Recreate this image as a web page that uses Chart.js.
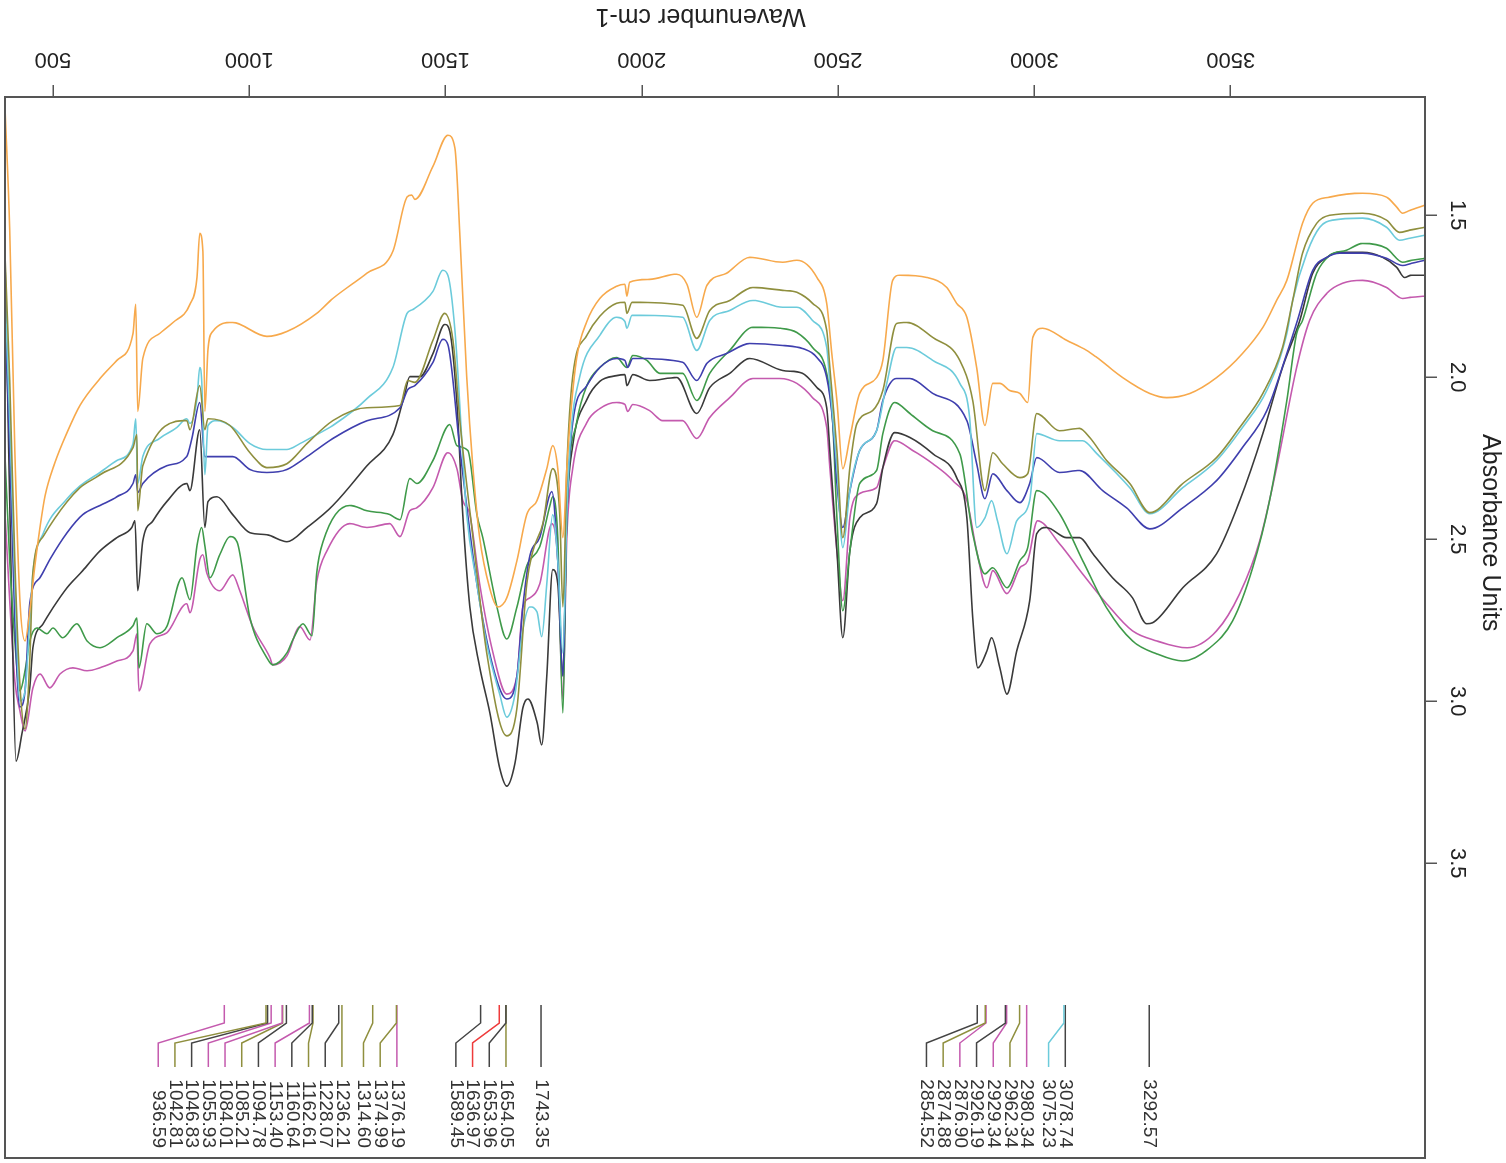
<!DOCTYPE html>
<html>
<head>
<meta charset="utf-8">
<title>FTIR spectra</title>
<script src="https://cdn.jsdelivr.net/npm/chart.js@4.4.0/dist/chart.umd.min.js"></script>
<style>
  html, body { margin: 0; padding: 0; background: #fff; overflow: hidden; }
  /* the reference picture is the plot turned upside down */
  #wrap { width: 1506px; height: 1163px; transform: rotate(180deg); }
  canvas { display: block; }
</style>
</head>
<body>
<div id="wrap"><canvas id="spectra" width="1506" height="1163"></canvas></div>
<script>
// spectra: wavenumber (cm-1) and absorbance
const orangeWn = [378,390,403,416,429,441,454,467,480,505,536,569,620,663,704,711,716,729,772,806,849,867,874,882,887,895,907,958,1045,1096,1172,1213,1300,1366,1402,1414,1422,1468,1506,1524,1537,1554,1570,1587,1613,1633,1656,1682,1707,1733,1758,1773,1786,1799,1809,1817,1834,1860,1893,1936,1957,1962,1969,2020,2089,2115,2140,2166,2216,2275,2359,2395,2446,2471,2484,2497,2512,2530,2555,2598,2614,2639,2657,2726,2777,2802,2828,2853,2874,2894,2912,2937,2963,2983,2996,3021,3082,3133,3159,3225,3294,3337,3396,3464,3530,3582,3617,3643,3683,3709,3752,3836,3897,3923,3938,3956,3994];
const orangeAbs = [1.169,1.546,2.226,2.690,2.814,2.721,2.582,2.464,2.366,2.264,2.171,2.087,2.004,1.948,1.865,1.775,2.106,1.942,1.865,1.831,1.775,1.692,1.556,1.611,2.106,1.914,1.859,1.831,1.874,1.859,1.803,1.757,1.679,1.611,1.444,1.438,1.451,1.349,1.253,1.293,1.571,1.998,2.282,2.495,2.653,2.709,2.681,2.566,2.424,2.381,2.282,2.211,2.282,2.495,2.282,2.140,1.942,1.828,1.757,1.719,1.713,1.750,1.707,1.698,1.682,1.713,1.815,1.716,1.679,1.630,1.645,1.639,1.692,1.772,1.927,2.072,2.282,2.186,2.050,2.001,1.948,1.701,1.685,1.692,1.723,1.772,1.815,1.970,2.149,2.019,2.019,2.041,2.050,2.078,1.877,1.849,1.886,1.917,1.939,2.001,2.050,2.063,2.050,2.001,1.927,1.846,1.763,1.701,1.525,1.463,1.444,1.432,1.444,1.475,1.494,1.485,1.469];

const oliveWn = [378,390,403,416,429,441,449,475,536,569,620,704,714,716,729,841,849,874,887,895,951,1002,1045,1096,1147,1213,1300,1384,1404,1422,1468,1498,1519,1537,1570,1605,1656,1682,1707,1722,1748,1773,1791,1799,1809,1824,1860,1893,1936,1957,1962,1975,2104,2140,2173,2224,2283,2359,2395,2435,2471,2479,2497,2512,2530,2548,2588,2614,2649,2675,2741,2810,2843,2874,2894,2919,2963,2983,3006,3064,3115,3141,3184,3243,3294,3378,3464,3523,3582,3632,3658,3683,3719,3752,3836,3897,3930,3956,3994];
const oliveAbs = [1.624,2.010,2.566,2.950,3.086,2.876,2.604,2.492,2.384,2.341,2.301,2.217,2.177,2.412,2.273,2.134,2.162,2.026,2.162,2.128,2.149,2.233,2.279,2.267,2.205,2.134,2.094,2.087,2.010,2.016,1.886,1.803,1.886,2.140,2.495,2.851,3.107,3.021,2.638,2.539,2.452,2.282,2.424,2.709,2.282,1.998,1.871,1.812,1.772,1.769,1.803,1.769,1.778,1.880,1.794,1.763,1.723,1.732,1.738,1.772,1.855,1.970,2.226,2.495,2.279,2.143,2.103,2.041,1.834,1.831,1.877,1.948,2.072,2.350,2.233,2.267,2.310,2.298,2.112,2.165,2.158,2.186,2.257,2.328,2.418,2.328,2.248,2.155,2.050,1.908,1.763,1.617,1.525,1.500,1.494,1.515,1.553,1.546,1.537];

const cyanWn = [378,390,403,416,429,441,449,475,536,569,620,663,704,711,716,729,772,816,841,849,867,874,879,887,895,918,958,1002,1045,1096,1129,1172,1213,1300,1366,1402,1417,1468,1493,1506,1524,1554,1580,1605,1638,1656,1677,1697,1715,1733,1745,1758,1773,1786,1799,1809,1817,1842,1893,1936,1957,1962,1975,2104,2140,2173,2224,2283,2359,2395,2435,2471,2479,2497,2512,2530,2555,2598,2624,2649,2675,2741,2810,2835,2853,2874,2891,2906,2930,2955,2988,3006,3064,3123,3159,3243,3294,3378,3464,3530,3592,3643,3658,3694,3727,3760,3836,3897,3930,3956,3994];
const cyanAbs = [1.741,2.134,2.628,2.999,2.968,2.752,2.604,2.483,2.375,2.335,2.294,2.257,2.205,2.128,2.328,2.245,2.189,2.155,2.128,2.143,2.066,1.970,2.010,2.301,2.149,2.134,2.155,2.205,2.223,2.223,2.205,2.177,2.149,2.066,1.970,1.803,1.791,1.735,1.670,1.685,1.855,2.424,2.638,2.823,2.978,3.049,2.978,2.780,2.709,2.724,2.801,2.638,2.424,2.566,2.851,2.424,2.211,1.998,1.871,1.815,1.828,1.849,1.809,1.815,1.917,1.825,1.794,1.763,1.784,1.784,1.825,1.908,2.019,2.279,2.526,2.350,2.226,2.165,2.019,1.908,1.908,1.948,2.019,2.124,2.464,2.434,2.381,2.443,2.545,2.443,2.381,2.174,2.196,2.196,2.236,2.341,2.421,2.341,2.257,2.155,2.041,1.865,1.763,1.617,1.537,1.515,1.509,1.537,1.577,1.571,1.562];

const blueWn = [378,390,403,416,429,441,467,492,536,576,620,663,704,711,716,729,790,841,854,874,887,958,1002,1045,1096,1147,1213,1300,1384,1404,1422,1468,1493,1506,1537,1580,1621,1656,1682,1697,1715,1740,1771,1786,1799,1809,1824,1860,1893,1936,1957,1964,1977,2104,2140,2166,2216,2275,2359,2409,2446,2471,2486,2497,2512,2530,2555,2598,2614,2649,2683,2741,2828,2853,2874,2894,2930,2963,2988,3006,3064,3115,3174,3235,3294,3378,3464,3530,3592,3643,3670,3709,3745,3778,3836,3897,3938,3961,3994];
const blueAbs = [1.803,2.226,2.752,3.018,2.968,2.699,2.619,2.563,2.480,2.424,2.396,2.369,2.328,2.301,2.356,2.328,2.273,2.245,2.189,2.078,2.245,2.245,2.285,2.294,2.285,2.245,2.189,2.134,2.094,2.038,2.026,1.954,1.883,1.899,2.226,2.638,2.894,2.993,2.922,2.709,2.551,2.495,2.353,2.566,2.922,2.424,2.140,2.026,1.970,1.942,1.948,1.970,1.942,1.954,2.010,1.957,1.927,1.896,1.902,1.911,1.939,2.001,2.134,2.328,2.464,2.350,2.226,2.165,2.072,2.004,2.004,2.050,2.134,2.267,2.375,2.298,2.350,2.387,2.328,2.248,2.294,2.288,2.350,2.403,2.468,2.403,2.319,2.217,2.103,1.927,1.825,1.670,1.630,1.617,1.617,1.633,1.655,1.648,1.639];

const greenWn = [378,390,403,416,429,441,459,485,500,525,561,587,620,663,704,714,719,739,765,790,829,849,867,879,887,900,925,951,969,1002,1045,1060,1096,1111,1137,1160,1172,1188,1256,1300,1358,1384,1409,1427,1468,1511,1529,1557,1580,1595,1631,1656,1682,1707,1740,1766,1773,1786,1799,1809,1834,1860,1893,1936,1962,1977,2013,2046,2104,2140,2173,2224,2283,2351,2395,2435,2471,2486,2497,2512,2530,2555,2598,2614,2644,2683,2741,2810,2843,2874,2894,2930,2963,2983,3006,3064,3123,3184,3250,3312,3378,3447,3505,3556,3599,3643,3668,3683,3719,3752,3795,3836,3897,3938,3961,3994];
const greenAbs = [2.245,2.566,2.814,2.968,2.906,2.814,2.774,2.792,2.774,2.804,2.761,2.814,2.835,2.804,2.767,2.743,2.897,2.761,2.792,2.770,2.619,2.687,2.520,2.464,2.520,2.619,2.548,2.492,2.508,2.743,2.866,2.888,2.851,2.811,2.761,2.798,2.604,2.508,2.396,2.412,2.424,2.440,2.313,2.328,2.257,2.146,2.211,2.226,2.424,2.495,2.709,2.808,2.709,2.582,2.523,2.396,2.369,2.495,3.036,2.424,2.140,2.026,1.970,1.939,1.970,1.933,1.948,1.988,1.988,2.072,1.988,1.917,1.846,1.849,1.862,1.908,1.988,2.134,2.434,2.721,2.536,2.328,2.288,2.174,2.078,2.112,2.165,2.236,2.483,2.607,2.588,2.650,2.566,2.526,2.350,2.421,2.566,2.712,2.814,2.854,2.876,2.835,2.752,2.588,2.381,2.072,1.865,1.825,1.679,1.624,1.608,1.587,1.602,1.645,1.639,1.633];

const blackWn = [378,385,396,406,421,441,449,475,500,536,576,620,663,701,709,716,729,755,790,841,849,874,887,895,918,958,1002,1045,1096,1147,1213,1300,1366,1396,1409,1435,1468,1498,1511,1529,1544,1562,1587,1613,1638,1656,1677,1697,1710,1733,1745,1758,1773,1786,1799,1809,1824,1860,1893,1936,1957,1962,1977,2020,2089,2140,2173,2224,2275,2359,2409,2446,2471,2479,2497,2512,2530,2555,2598,2614,2644,2683,2741,2802,2828,2843,2856,2879,2891,2912,2930,2955,2988,3006,3031,3082,3115,3149,3199,3250,3286,3301,3378,3464,3523,3582,3632,3676,3709,3745,3778,3836,3887,3923,3943,3961,3994];
const blackAbs = [1.639,2.072,2.752,3.185,3.101,2.959,2.835,2.761,2.712,2.650,2.597,2.536,2.495,2.464,2.443,2.659,2.505,2.443,2.384,2.328,2.350,2.162,2.464,2.384,2.369,2.424,2.480,2.486,2.508,2.464,2.396,2.273,2.177,2.053,1.998,1.998,1.927,1.837,1.859,2.078,2.424,2.709,2.894,3.036,3.206,3.262,3.191,3.021,2.993,3.064,3.135,2.922,2.594,2.638,2.922,2.424,2.211,2.069,2.013,1.995,1.992,2.026,1.992,2.010,2.001,2.112,2.032,1.988,1.942,1.979,1.988,2.032,2.094,2.226,2.536,2.804,2.536,2.434,2.390,2.279,2.171,2.186,2.236,2.310,2.434,2.743,2.897,2.845,2.804,2.897,2.978,2.845,2.690,2.483,2.464,2.495,2.495,2.545,2.619,2.681,2.761,2.758,2.650,2.545,2.381,2.174,1.970,1.825,1.679,1.630,1.614,1.614,1.630,1.661,1.692,1.685,1.685];

const magentaWn = [378,390,403,416,429,449,467,492,518,551,587,620,663,704,714,719,747,790,841,849,874,882,892,925,958,976,1009,1053,1060,1096,1129,1155,1172,1198,1256,1300,1358,1384,1409,1427,1468,1506,1529,1544,1562,1587,1621,1656,1682,1697,1715,1740,1771,1786,1799,1809,1824,1860,1893,1936,1957,1964,1977,2020,2053,2104,2140,2173,2224,2283,2351,2395,2435,2471,2479,2497,2512,2530,2555,2598,2614,2644,2690,2741,2792,2828,2853,2879,2894,2930,2963,2983,3008,3064,3123,3184,3250,3312,3389,3464,3523,3574,3617,3668,3701,3745,3785,3836,3897,3938,3961,3994];
const magentaAbs = [2.421,2.690,2.937,3.030,3.092,2.959,2.916,2.959,2.916,2.897,2.906,2.897,2.876,2.845,2.792,2.968,2.823,2.789,2.699,2.727,2.563,2.548,2.604,2.659,2.610,2.659,2.770,2.866,2.888,2.860,2.770,2.811,2.631,2.536,2.452,2.464,2.452,2.492,2.412,2.403,2.341,2.233,2.282,2.381,2.424,2.638,2.851,2.978,2.922,2.709,2.681,2.638,2.452,2.566,2.993,2.495,2.282,2.140,2.097,2.078,2.084,2.106,2.084,2.103,2.134,2.134,2.189,2.124,2.063,2.004,2.004,2.019,2.063,2.155,2.279,2.536,2.690,2.434,2.359,2.341,2.279,2.196,2.226,2.267,2.319,2.381,2.536,2.650,2.597,2.668,2.588,2.566,2.443,2.514,2.607,2.699,2.783,2.814,2.835,2.783,2.668,2.505,2.279,1.970,1.825,1.741,1.710,1.701,1.723,1.757,1.753,1.750];

// picked peaks
const peakWn = [3292.57,3078.74,3075.23,2980.34,2962.34,2929.34,2926.19,2876.90,2874.88,2854.52,1743.35,1654.05,1653.96,1636.97,1589.45,1376.19,1374.99,1314.60,1236.21,1228.07,1162.61,1160.64,1153.40,1094.78,1085.21,1084.01,1055.93,1046.83,1042.81,936.59];
const peakColors = ['#444','#444','#6ccbdb','#c45aae','#8f8f3e','#c45aae','#444','#c45aae','#8f8f3e','#444','#444','#8f8f3e','#444','#ee3b3b','#444','#c45aae','#8f8f3e','#8f8f3e','#8f8f3e','#444','#8f8f3e','#444','#c45aae','#444','#8f8f3e','#c45aae','#c45aae','#444','#8f8f3e','#c45aae'];

const xTicksShown = [500, 1000, 1500, 2000, 2500, 3000, 3500];
const yTicksShown = [1.5, 2.0, 2.5, 3.0, 3.5];

const FONT = '"Liberation Sans", Arial, Helvetica, sans-serif';
Chart.defaults.font.family = FONT;

const seriesColors = {
    orange: '#f7a94c',
    olive: '#8f8f3e',
    cyan: '#6ccbdb',
    blue: '#3f3fae',
    green: '#3f9a4a',
    black: '#3a3a3a',
    magenta: '#c45aae'
};

function toPoints(wn, abs) {
    return wn.map((w, i) => ({ x: w, y: abs[i] }));
}

const seriesList = [
    ['orange', orangeWn, orangeAbs],
    ['olive', oliveWn, oliveAbs],
    ['cyan', cyanWn, cyanAbs],
    ['blue', blueWn, blueAbs],
    ['green', greenWn, greenAbs],
    ['black', blackWn, blackAbs],
    ['magenta', magentaWn, magentaAbs]
];

const datasets = seriesList.map(([name, wn, abs]) => ({
    label: name,
    data: toPoints(wn, abs),
    borderColor: seriesColors[name],
    borderWidth: 1.6,
    showLine: true,
    pointRadius: 0,
    fill: false,
    cubicInterpolationMode: 'monotone'  // rounds the troughs without overshoot
}));

// frame, peak labels and axis titles
const decorations = {
    id: 'decorations',
    afterDatasetsDraw(chart) {
        const { ctx, chartArea: area, scales: { x, y } } = chart;
        ctx.save();
        ctx.strokeStyle = '#555';
        ctx.lineWidth = 2;
        ctx.strokeRect(area.left, area.top, area.right - area.left, area.bottom - area.top);

        // labels pushed apart so they don't overlap
        const order = peakWn.map((w, i) => i).sort((a, b) => peakWn[b] - peakWn[a]);
        let prev = -Infinity;
        const t = area.top;
        ctx.font = '19px ' + FONT;
        order.forEach(i => {
            const px = x.getPixelForValue(peakWn[i]);
            const lx = Math.max(px, prev + 16.7);
            prev = lx;
            ctx.strokeStyle = peakColors[i];
            ctx.lineWidth = 1.5;
            ctx.beginPath();
            ctx.moveTo(px, t + 153);
            ctx.lineTo(px, t + 135);
            ctx.lineTo(lx, t + 115);
            ctx.lineTo(lx, t + 91);
            ctx.stroke();
            ctx.save();
            ctx.translate(lx, t + 10);
            ctx.rotate(-Math.PI / 2);
            ctx.fillStyle = '#333';
            ctx.textAlign = 'right';
            ctx.textBaseline = 'middle';
            ctx.fillText(peakWn[i].toFixed(2), 0, 0);
            ctx.restore();
        });

        ctx.font = '25px ' + FONT;
        ctx.fillStyle = '#222';
        ctx.textAlign = 'center';
        ctx.textBaseline = 'middle';
        ctx.fillText('Wavenumber cm-1', x.getPixelForValue(2150), chart.height - 16);
        ctx.translate(16, y.getPixelForValue(2.48));
        ctx.rotate(-Math.PI / 2);
        ctx.fillText('Absorbance Units', 0, 0);
        ctx.restore();
    }
};

const ctx = document.getElementById('spectra').getContext('2d');
const chart = new Chart(ctx, {
    type: 'scatter',
    data: { datasets: datasets },
    options: {
        responsive: false,
        animation: false,
        devicePixelRatio: 1,
        layout: { padding: { top: 5, right: 5, bottom: 0, left: 0 } },
        plugins: {
            legend: { display: false },
            tooltip: { enabled: false }
        },
        scales: {
            x: {
                type: 'linear',
                reverse: true,
                min: 378,
                max: 3995,
                position: 'bottom',
                border: { display: false },
                grid: { drawOnChartArea: false, drawTicks: true, tickLength: 12, color: '#555', lineWidth: 1.5 },
                ticks: {
                    stepSize: 500,
                    includeBounds: false,
                    autoSkip: false,
                    maxRotation: 0,
                    padding: 13,
                    color: '#222',
                    font: { size: 22 },
                    callback: v => String(v)
                },
                afterBuildTicks: s => { s.ticks = xTicksShown.map(v => ({ value: v })); },
                afterFit: s => {
                    s.height = 97;
                    s.paddingLeft = 0;
                    s.paddingRight = 0;
                }
            },
            y: {
                type: 'linear',
                min: 1.135,
                max: 4.41,
                position: 'left',
                border: { display: false },
                grid: { drawOnChartArea: false, drawTicks: true, tickLength: 12, color: '#555', lineWidth: 1.5 },
                ticks: {
                    stepSize: 0.5,
                    includeBounds: false,
                    minRotation: 90,
                    maxRotation: 90,
                    crossAlign: 'center',
                    padding: 5,
                    color: '#222',
                    font: { size: 22 },
                    callback: v => Number(v).toFixed(1)
                },
                afterBuildTicks: s => { s.ticks = yTicksShown.map(v => ({ value: v })); },
                afterFit: s => {
                    s.width = 81;
                    s.paddingTop = 0;
                    s.paddingBottom = 0;
                }
            }
        }
    },
    plugins: [decorations]
});
</script>
</body>
</html>
